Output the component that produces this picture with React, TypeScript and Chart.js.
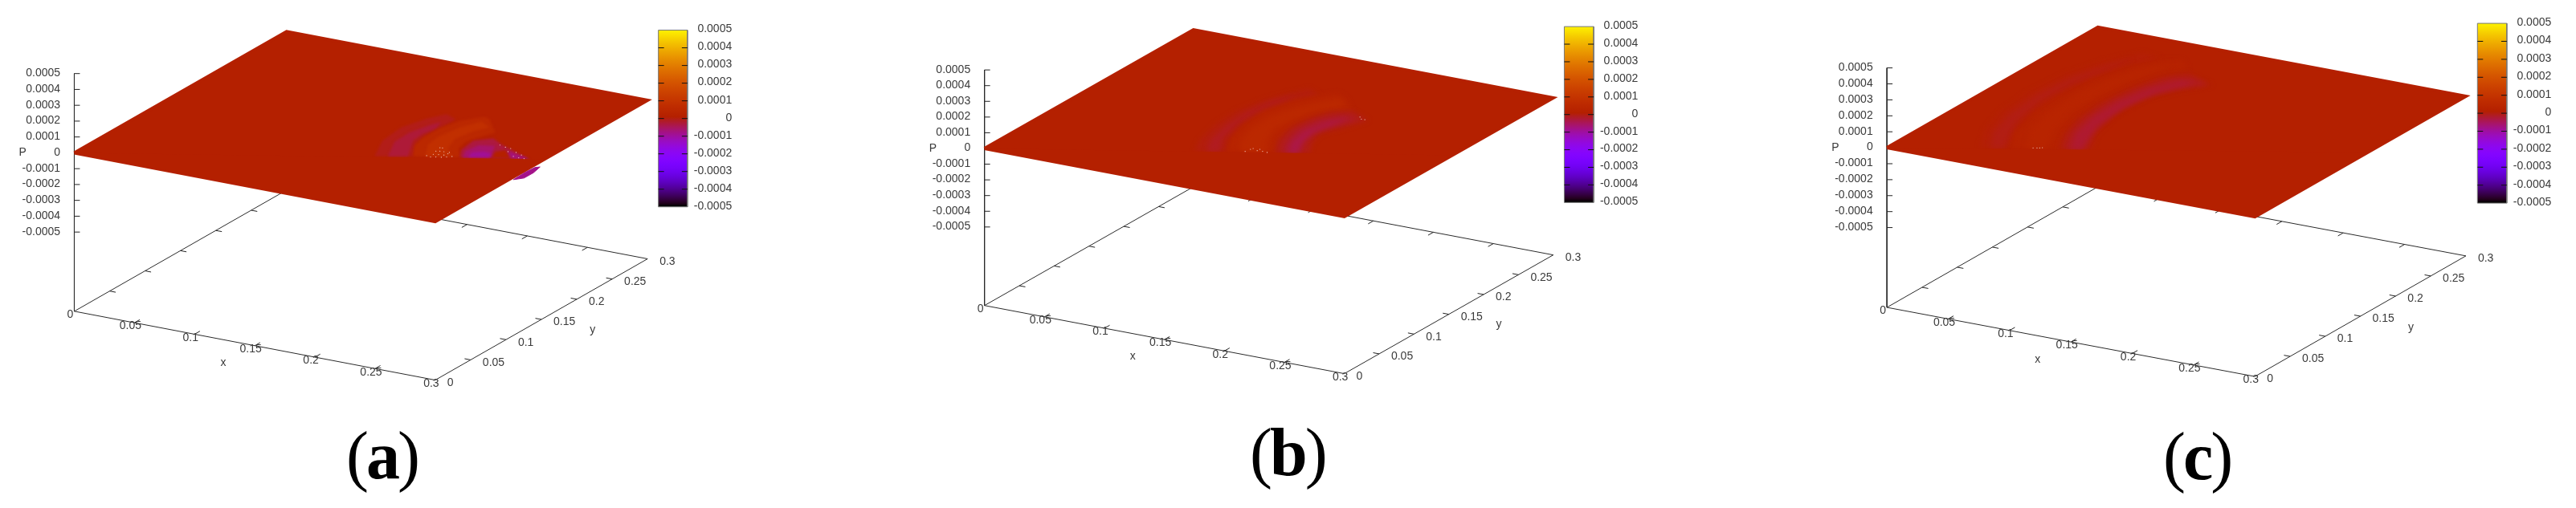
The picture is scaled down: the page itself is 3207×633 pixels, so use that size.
import { useEffect, useRef } from 'react';
import { Chart, registerables } from 'chart.js';

Chart.register(...registerables);

const WIDTH = 3207;
const HEIGHT = 633;
const AXIS_SPAN = 0.3;
const P_MAX = 0.0005;

const xTicks = [0, 0.05, 0.1, 0.15, 0.2, 0.25, 0.3];
const yTicks = [0, 0.05, 0.1, 0.15, 0.2, 0.25, 0.3];
const tickLabels = ['0', '0.05', '0.1', '0.15', '0.2', '0.25', '0.3'];
const pTicks = [0.0005, 0.0004, 0.0003, 0.0002, 0.0001, 0, -0.0001, -0.0002, -0.0003, -0.0004, -0.0005];
const pLabels = ['0.0005', '0.0004', '0.0003', '0.0002', '0.0001', '0', '-0.0001', '-0.0002', '-0.0003', '-0.0004', '-0.0005'];

type Pt = number[];

// contours of the pressure field, as [x, y]
const domain: Pt[] = [[0, 0], [0.3, 0], [0.3, 0.3], [0, 0.3]];

// panel a
const aFaint: Pt[] = [[.1910, .0995], [.1787, .1317], [.1759, .1628], [.1825, .1894], [.1898, .2034], [.2014, .1969], [.2009, .1770], [.1998, .1600], [.2024, .1386], [.2151, .1132]];
const aFaintCore: Pt[] = [[.1993, .1042], [.1876, .1335], [.1867, .1558], [.1914, .1781], [.1951, .1868], [.1990, .1726], [.1965, .1581], [.1978, .1426], [.2118, .1113]];
const aCrest: Pt[] = [[.2151, .1132], [.2044, .1332], [.2008, .1508], [.2007, .1736], [.2054, .1958], [.2160, .2117], [.2216, .2097], [.2403, .1863], [.2360, .1740], [.2317, .1585], [.2348, .1439], [.2451, .1282]];
const aCrestCore: Pt[] = [[.2226, .1174], [.2113, .1404], [.2093, .1589], [.2126, .1836], [.2195, .2019], [.2309, .1940], [.2252, .1810], [.2222, .1597], [.2281, .1401], [.2393, .1269]];
const aTrough: Pt[] = [[.2451, .1282], [.2379, .1424], [.2353, .1638], [.2455, .1748], [.2571, .1664], [.2913, .1485], [.2762, .1433]];
const aTroughMid: Pt[] = [[.2474, .1282], [.2418, .1414], [.2438, .1569], [.2544, .1616], [.2648, .1381]];
const aTroughCore: Pt[] = [[.2501, .1311], [.2474, .1413], [.2540, .1470], [.2610, .1457], [.2631, .1384]];
const aPocket: Pt[] = [[.2657, .1386], [.2610, .1510], [.2654, .1580], [.2779, .1435]];
const aTail: Pt[] = [[.2685, .1565], [.2904, .1493], [.2785, .1439]];
const aBulge: Pt[] = [[.3029, .1055], [.3078, .1122], [.3079, .1253], [.3057, .1384], [.3030, .1355], [.3023, .1234]];
const aSpeckles: Pt[] = [[.2223, .1388], [.2242, .1392], [.2235, .1310], [.2260, .1324], [.2291, .1328], [.2333, .1333], [.2253, .1242], [.2289, .1256], [.2328, .1265], [.2339, .1303], [.2226, .1194], [.2265, .1183], [.2298, .1202], [.2335, .1216], [.2365, .1240], [.2393, .1269], [.2568, .1649], [.2625, .1629], [.2672, .1623], [.2690, .1555], [.2749, .1569], [.2811, .1539], [.2775, .1486], [.2865, .1484], [.2823, .1480]];

// panel b
const bFaint: Pt[] = [[.1345, .0698], [.1253, .0933], [.1185, .1261], [.1167, .1618], [.1218, .1914], [.1306, .2145], [.1377, .2292], [.1510, .2215], [.1399, .1985], [.1349, .1688], [.1360, .1361], [.1437, .1038], [.1554, .0805]];
const bFaintCore: Pt[] = [[.1426, .0731], [.1320, .0971], [.1260, .1304], [.1248, .1631], [.1282, .1917], [.1360, .2129], [.1351, .1990], [.1301, .1694], [.1312, .1367], [.1381, .1039], [.1509, .0779]];
const bCrest: Pt[] = [[.1554, .0805], [.1431, .1068], [.1354, .1391], [.1334, .1713], [.1399, .1985], [.1519, .2200], [.1613, .2307], [.1721, .2236], [.1885, .2030], [.1749, .1919], [.1703, .1692], [.1688, .1449], [.1737, .1211], [.1860, .0961]];
const bCrestCore: Pt[] = [[.1634, .0851], [.1512, .1081], [.1442, .1375], [.1442, .1642], [.1505, .1879], [.1600, .2100], [.1688, .2217], [.1792, .2076], [.1668, .1905], [.1605, .1669], [.1590, .1426], [.1671, .1172], [.1811, .0939]];
const bTrough: Pt[] = [[.1867, .0958], [.1746, .1215], [.1690, .1484], [.1705, .1726], [.1766, .1928], [.1885, .2030], [.2087, .1912], [.2007, .1666], [.1932, .1489], [.1984, .1285], [.2083, .1075]];
const bTroughMid: Pt[] = [[.1910, .0983], [.1804, .1249], [.1755, .1488], [.1787, .1740], [.1893, .1901], [.1998, .1894], [.1947, .1732], [.1857, .1580], [.1898, .1336], [.2022, .1047]];
const bTroughCore: Pt[] = [[.1947, .1004], [.1852, .1243], [.1819, .1491], [.1866, .1718], [.1939, .1860], [.1909, .1643], [.1882, .1460], [.1917, .1247], [.2005, .1037]];
const bSpeckles: Pt[] = [[.1662, .0880], [.1672, .0939], [.1680, .0964], [.1729, .0938], [.1731, .0973], [.1771, .0943], [.1811, .0939], [.2002, .1943], [.2034, .1908], [.2061, .1911]];

// panel c
const cFaint: Pt[] = [[.0571, .0322], [.0411, .0677], [.0311, .1080], [.0276, .1520], [.0307, .1997], [.0411, .2386], [.0550, .2675], [.0727, .2632], [.0615, .2371], [.0528, .1992], [.0501, .1583], [.0536, .1143], [.0620, .0731], [.0765, .0420]];
const cFaintCore: Pt[] = [[.0642, .0350], [.0488, .0656], [.0388, .1058], [.0354, .1498], [.0382, .1942], [.0487, .2330], [.0563, .2538], [.0513, .2247], [.0453, .1818], [.0441, .1384], [.0523, .0938], [.0724, .0397]];
const cCrest: Pt[] = [[.0765, .0420], [.0620, .0731], [.0536, .1143], [.0501, .1583], [.0528, .1992], [.0615, .2371], [.0758, .2617], [.0872, .2683], [.1004, .2528], [.0911, .2311], [.0842, .1976], [.0818, .1600], [.0841, .1219], [.0943, .0850], [.1066, .0579]];
const cCrestCore: Pt[] = [[.0863, .0476], [.0681, .0832], [.0606, .1249], [.0585, .1664], [.0626, .2049], [.0726, .2369], [.0835, .2596], [.0840, .2434], [.0776, .2167], [.0733, .1749], [.0739, .1358], [.0837, .0921], [.0986, .0547]];
const cTrough: Pt[] = [[.1073, .0577], [.0951, .0855], [.0863, .1199], [.0832, .1575], [.0856, .1951], [.0925, .2286], [.1047, .2454], [.1322, .2316], [.1182, .2105], [.1054, .1834], [.1044, .1434], [.1128, .1022], [.1271, .0677]];
const cTroughMid: Pt[] = [[.1110, .0598], [.0972, .0933], [.0906, .1257], [.0883, .1638], [.0922, .1988], [.1005, .2299], [.1136, .2374], [.1283, .2307], [.1104, .2126], [.1005, .1806], [.1011, .1415], [.1107, .0944], [.1230, .0654]];
const cTroughCore: Pt[] = [[.1142, .0617], [.1005, .0952], [.0941, .1309], [.0933, .1666], [.0987, .2026], [.1099, .2287], [.1193, .2275], [.1063, .1971], [.1022, .1586], [.1057, .1146], [.1208, .0654]];
const cSpeckles: Pt[] = [[.0899, .0510], [.0923, .0524], [.0940, .0533], [.0953, .0548]];

// [pressure, contour], painted in this order
const aBands: [number, Pt[]][] = [
  [-0.000015, aFaint], [-0.000035, aFaintCore], [0.00004, aCrest], [0.00007, aCrestCore],
  [-0.00004, aTrough], [-0.00007, aTroughMid], [-0.0001, aTroughCore], [0, aPocket], [-0.00008, aTail],
];
const bBands: [number, Pt[]][] = [
  [-0.000008, bFaint], [-0.00002, bFaintCore], [0.00002, bCrest], [0.00004, bCrestCore],
  [-0.000015, bTrough], [-0.00003, bTroughMid], [-0.000045, bTroughCore],
];
const cBands: [number, Pt[]][] = [
  [-0.000004, cFaint], [-0.000012, cFaintCore], [0.00001, cCrest], [0.000022, cCrestCore],
  [-0.00001, cTrough], [-0.00002, cTroughMid], [-0.00003, cTroughCore],
];

const panels = [
  {
    letter: 'a', origin: [88.7, 388.8], xVec: [450.5, 86.8], yVec: [265, -153], zStep: 100,
    bar: { left: 817.7, right: 854, top: 34, bottom: 257 },
    xName: [186, 65], yName: [647, 24], caption: [431, 596],
    bands: aBands, speckles: aSpeckles, cut: 0.154, soft: 1.6, bulge: aBulge,
  },
  {
    letter: 'b', origin: [1224.7, 381.5], xVec: [449.1, 86], yVec: [260.8, -149.8], zStep: 99.1,
    bar: { left: 1948.3, right: 1985, top: 29.5, bottom: 251.5 },
    xName: [185, 64], yName: [642, 24], caption: [1556, 592],
    bands: bBands, speckles: bSpeckles, cut: 0.155, soft: 3, bulge: null,
  },
  {
    letter: 'c', origin: [2351, 383.9], xVec: [459.3, 87.2], yVec: [263.3, -152.2], zStep: 100.75,
    bar: { left: 3088, right: 3124.7, top: 25.4, bottom: 252.3 },
    xName: [188, 66], yName: [654, 25], caption: [2693, 597],
    bands: cBands, speckles: cSpeckles, cut: 0.16, soft: 3, bulge: null,
  },
];

type Panel = (typeof panels)[number];

// gnuplot's default pm3d palette (rgbformulae 7,5,15)
const palette = (p: number) => {
  const t = (p + P_MAX) / (2 * P_MAX);
  const r = Math.sqrt(t);
  const g = t * t * t;
  const b = Math.max(0, Math.sin(2 * Math.PI * t));
  return `rgb(${Math.round(r * 255)},${Math.round(g * 255)},${Math.round(b * 255)})`;
};

const project = (v: Panel, x: number, y: number, z = 0) => ({
  x: v.origin[0] + (x / AXIS_SPAN) * v.xVec[0] + (y / AXIS_SPAN) * v.yVec[0],
  y: v.origin[1] + (x / AXIS_SPAN) * v.xVec[1] + (y / AXIS_SPAN) * v.yVec[1] - ((z + 2 * P_MAX) / P_MAX) * v.zStep,
});

const barY = (v: Panel, p: number) => v.bar.top + ((P_MAX - p) / (2 * P_MAX)) * (v.bar.bottom - v.bar.top);

const GAP = { x: NaN, y: NaN };

const stroke = (data: any[], color: string, width: number) => ({
  data, borderColor: color, borderWidth: width, pointRadius: 0, fill: false, tension: 0, clip: false,
});

const area = (v: Panel, contour: Pt[], color: string, edge = 0, blur = 0) => {
  const pts = contour.map((c) => project(v, c[0], c[1]));
  return {
    data: [...pts, pts[0]], backgroundColor: color, borderColor: color, borderWidth: edge,
    fill: 'shape', pointRadius: 0, tension: 0, clip: false, blur,
  };
};

const panelDatasets = (v: Panel, ctx: CanvasRenderingContext2D) => {
  const out: any[] = [];
  const axisColor = '#2a2a2a';
  const floor = -2 * P_MAX;

  // floor frame, z axis and tick marks, all behind the surface
  out.push(stroke([project(v, 0, 0, P_MAX), project(v, 0, 0, floor)], axisColor, 1));
  out.push(stroke(domain.concat([domain[0]]).map((c) => project(v, c[0], c[1], floor)), axisColor, 1));
  const marks: any[] = [];
  xTicks.slice(1, -1).forEach((x) => {
    marks.push(project(v, x, 0, floor), project(v, x, 0.0075, floor), GAP);
    marks.push(project(v, x, AXIS_SPAN, floor), project(v, x, AXIS_SPAN - 0.0075, floor), GAP);
  });
  yTicks.slice(1, -1).forEach((y) => {
    marks.push(project(v, 0, y, floor), project(v, 0.005, y, floor), GAP);
    marks.push(project(v, AXIS_SPAN, y, floor), project(v, AXIS_SPAN - 0.005, y, floor), GAP);
  });
  pTicks.forEach((p) => {
    const a = project(v, 0, 0, p);
    marks.push(a, { x: a.x + 7, y: a.y }, GAP);
  });
  out.push(stroke(marks, '#222', 1));

  // surface, then the soft bands, then the flat front part of the mesh over them
  out.push(area(v, domain, palette(0), 4));
  v.bands.forEach(([p, contour]) => out.push(area(v, contour, palette(p), 0, v.soft)));
  out.push(area(v, [[0, 0], [AXIS_SPAN, 0], [AXIS_SPAN, v.cut]], palette(0)));
  out.push({
    data: v.speckles.map((c) => project(v, c[0], c[1])), showLine: false, pointRadius: 0.6, pointBorderWidth: 0,
    pointBackgroundColor: '#f4cfc4', clip: false,
  });
  if (v.bulge) out.push(area(v, v.bulge, palette(-0.00009), 1));

  // colour bar
  const { left, right, top, bottom } = v.bar;
  const mid = (left + right) / 2;
  const grad = ctx.createLinearGradient(0, top, 0, bottom);
  for (let i = 0; i <= 60; i++) grad.addColorStop(i / 60, palette(P_MAX - (i / 60) * 2 * P_MAX));
  out.push(stroke([{ x: mid, y: top }, { x: mid, y: bottom }], grad as any, right - left));
  out.push(stroke([{ x: left, y: top }, { x: right, y: top }, { x: right, y: bottom }, { x: left, y: bottom }, { x: left, y: top }], '#777', 1));
  const barMarks: any[] = [];
  pTicks.slice(1, -1).forEach((p) => {
    const y = barY(v, p);
    barMarks.push({ x: left, y }, { x: left + 7, y }, GAP, { x: right - 7, y }, { x: right, y }, GAP);
  });
  out.push(stroke(barMarks, '#111', 1));
  return out;
};

// band fills need ctx.filter set before the Filler hook of the next dataset runs
const setBlur = (chart: any, index: number) => {
  const ds = chart.data.datasets[index];
  chart.ctx.filter = ds && ds.blur ? `blur(${ds.blur}px)` : 'none';
};

const softBands = {
  id: 'softBands',
  beforeDatasetsDraw(chart: any) {
    setBlur(chart, chart.data.datasets.length - 1);
  },
  afterDatasetDraw(chart: any, args: any) {
    setBlur(chart, args.index - 1);
  },
  afterDatasetsDraw(chart: any) {
    chart.ctx.filter = 'none';
  },
};

const panelText = {
  id: 'panelText',
  afterDraw(chart: any) {
    const { ctx, scales } = chart;
    const put = (text: string, u: number, w: number, align: CanvasTextAlign) => {
      ctx.textAlign = align;
      ctx.fillText(text, scales.x.getPixelForValue(u), scales.y.getPixelForValue(w));
    };
    ctx.save();
    ctx.textBaseline = 'middle';
    panels.forEach((v) => {
      const floor = -2 * P_MAX;
      ctx.font = '14px "Liberation Sans"';
      ctx.fillStyle = '#3a3a3a';
      pTicks.forEach((p, i) => {
        const a = project(v, 0, 0, p);
        put(pLabels[i], a.x - 17.5, a.y - 0.5, 'right');
        put(pLabels[i], v.bar.right + 55.5, barY(v, p) - 1, 'right');
      });
      const zero = project(v, 0, 0, 0);
      put('P', zero.x - 64.5, zero.y, 'center');
      xTicks.forEach((x, i) => {
        const a = project(v, x, 0, floor);
        put(tickLabels[i], a.x - 5, a.y + 4.5, 'center');
      });
      yTicks.forEach((y, i) => {
        const a = project(v, AXIS_SPAN, y, floor);
        put(tickLabels[i], a.x + 15, a.y + 3.5, 'left');
      });
      put('x', v.origin[0] + v.xName[0], v.origin[1] + v.xName[1], 'center');
      put('y', v.origin[0] + v.yName[0], v.origin[1] + v.yName[1], 'center');

      // caption: upright parentheses, bold letter
      ctx.fillStyle = '#000';
      ctx.textBaseline = 'alphabetic';
      ctx.letterSpacing = '-3px';
      ctx.textAlign = 'left';
      let cx = v.caption[0];
      [['(', false], [v.letter, true], [')', false]].forEach(([s, bold]) => {
        ctx.font = `${bold ? 'bold ' : ''}84px "Liberation Serif"`;
        ctx.fillText(s as string, cx, v.caption[1]);
        cx += ctx.measureText(s as string).width;
      });
      ctx.letterSpacing = '0px';
      ctx.textBaseline = 'middle';
    });
    ctx.restore();
  },
};

export default function App() {
  const canvasRef = useRef<HTMLCanvasElement>(null);

  useEffect(() => {
    if (!canvasRef.current) return;
    const ctx = canvasRef.current.getContext('2d') as CanvasRenderingContext2D;
    // chart.js paints the first dataset last, so the paint order is flipped here
    const datasets = panels.flatMap((v) => panelDatasets(v, ctx)).reverse();
    const chart = new Chart(canvasRef.current, {
      type: 'line',
      data: { datasets },
      options: {
        responsive: false,
        animation: false,
        devicePixelRatio: 1,
        events: [],
        layout: { padding: 0 },
        plugins: { legend: { display: false }, tooltip: { enabled: false }, title: { display: false } },
        scales: {
          x: { type: 'linear', min: 0, max: WIDTH, display: false },
          y: { type: 'linear', min: 0, max: HEIGHT, reverse: true, display: false },
        },
      },
      plugins: [softBands, panelText],
    } as any);
    return () => chart.destroy();
  }, []);

  return (
    <div style={{ position: 'fixed', left: 0, top: 0, width: WIDTH, height: HEIGHT, background: '#fff' }}>
      <canvas ref={canvasRef} width={WIDTH} height={HEIGHT} style={{ display: 'block' }} />
    </div>
  );
}
